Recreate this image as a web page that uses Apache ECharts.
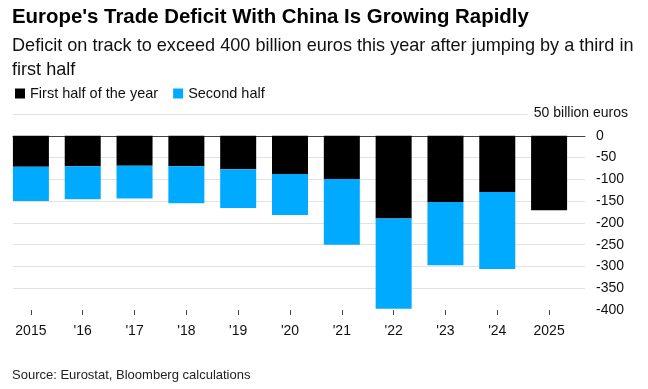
<!DOCTYPE html>
<html>
<head>
<meta charset="utf-8">
<script src="https://cdn.jsdelivr.net/npm/echarts@6/dist/echarts.min.js"></script>
<style>
html,body{margin:0;padding:0;background:#fff;}
#chart{width:648px;height:389px;}
</style>
</head>
<body>
<div id="chart"></div>
<script>
const categories = ['2015', "'16", "'17", "'18", "'19", "'20", "'21", "'22", "'23", "'24", '2025'];
const firstHalf = [-71, -70, -69, -70, -77, -88, -99, -190, -152, -129, -171];
const secondHalf = [-79, -76, -75, -85, -89, -94, -151, -207, -145, -177, null];
const yMin = -400, yMax = 50, yStep = 50;
const unitLabel = '50 billion euros';

const FONT = '"Liberation Sans", Arial, sans-serif';
const chart = echarts.init(document.getElementById('chart'), null, {renderer: 'canvas'});
chart.setOption({
  animation: false,
  backgroundColor: '#fff',
  textStyle: {fontFamily: FONT},
  title: [
    {text: "Europe's Trade Deficit With China Is Growing Rapidly", left: 12, top: 7, padding: 0,
     textStyle: {fontFamily: FONT, fontSize: 20.4, fontWeight: 'bold', color: '#000'}},
    {text: 'Deficit on track to exceed 400 billion euros this year after jumping by a third in\nfirst half', left: 12, top: 34, padding: 0,
     textStyle: {fontFamily: FONT, fontSize: 18.1, fontWeight: 'normal', color: '#111', lineHeight: 24}},
    {text: 'Source: Eurostat, Bloomberg calculations', left: 12, top: 369, padding: 0,
     textStyle: {fontFamily: FONT, fontSize: 13, fontWeight: 'normal', color: '#222'}}
  ],
  legend: {
    left: 15, top: 86, padding: 0, icon: 'rect', itemWidth: 10, itemHeight: 10, itemGap: 15,
    textStyle: {fontFamily: FONT, fontSize: 14.5, color: '#111'},
    data: ['First half of the year', 'Second half']
  },
  grid: [
    {left: 13, right: 63, top: 114, bottom: 79},
    {left: 5, right: 73, top: 114, bottom: 79}
  ],
  xAxis: [
    {gridIndex: 0, type: 'value', min: 0, max: 1, show: true,
     axisLine: {show: true, onZero: true, lineStyle: {color: '#444', width: 1}},
     axisTick: {show: false}, axisLabel: {show: false}, splitLine: {show: false}},
    {gridIndex: 1, type: 'category', data: categories, position: 'bottom',
     axisLine: {show: false, onZero: false},
     axisTick: {show: true, alignWithLabel: true, length: 5, lineStyle: {color: '#444'}},
     axisLabel: {margin: 14, fontFamily: FONT, fontSize: 14, color: '#111'}}
  ],
  yAxis: [
    {gridIndex: 0, type: 'value', position: 'right', min: yMin, max: yMax, interval: yStep,
     axisLine: {show: false}, axisTick: {show: false},
     axisLabel: {margin: 11, align: 'left', fontFamily: FONT, fontSize: 14, color: '#111',
       formatter: v => (v === yMax ? '' : String(v))},
     splitLine: {show: true, showMinLine: false, lineStyle: {color: '#e2e2e2', width: 1}}},
    {gridIndex: 1, type: 'value', min: yMin, max: yMax, interval: yStep, show: false}
  ],
  graphic: [
    {type: 'text', right: 20, top: 106, z: 100,
     style: {text: unitLabel, fontFamily: FONT, fontSize: 14, fill: '#111',
       backgroundColor: '#fff', padding: [0, 0, 0, 6]}}
  ],
  series: [
    {name: 'First half of the year', type: 'bar', stack: 'total', xAxisIndex: 1, yAxisIndex: 1,
     barWidth: 36, itemStyle: {color: '#000'}, data: firstHalf},
    {name: 'Second half', type: 'bar', stack: 'total', xAxisIndex: 1, yAxisIndex: 1,
     barWidth: 36, itemStyle: {color: '#00abff'}, data: secondHalf}
  ]
});
</script>
</body>
</html>
